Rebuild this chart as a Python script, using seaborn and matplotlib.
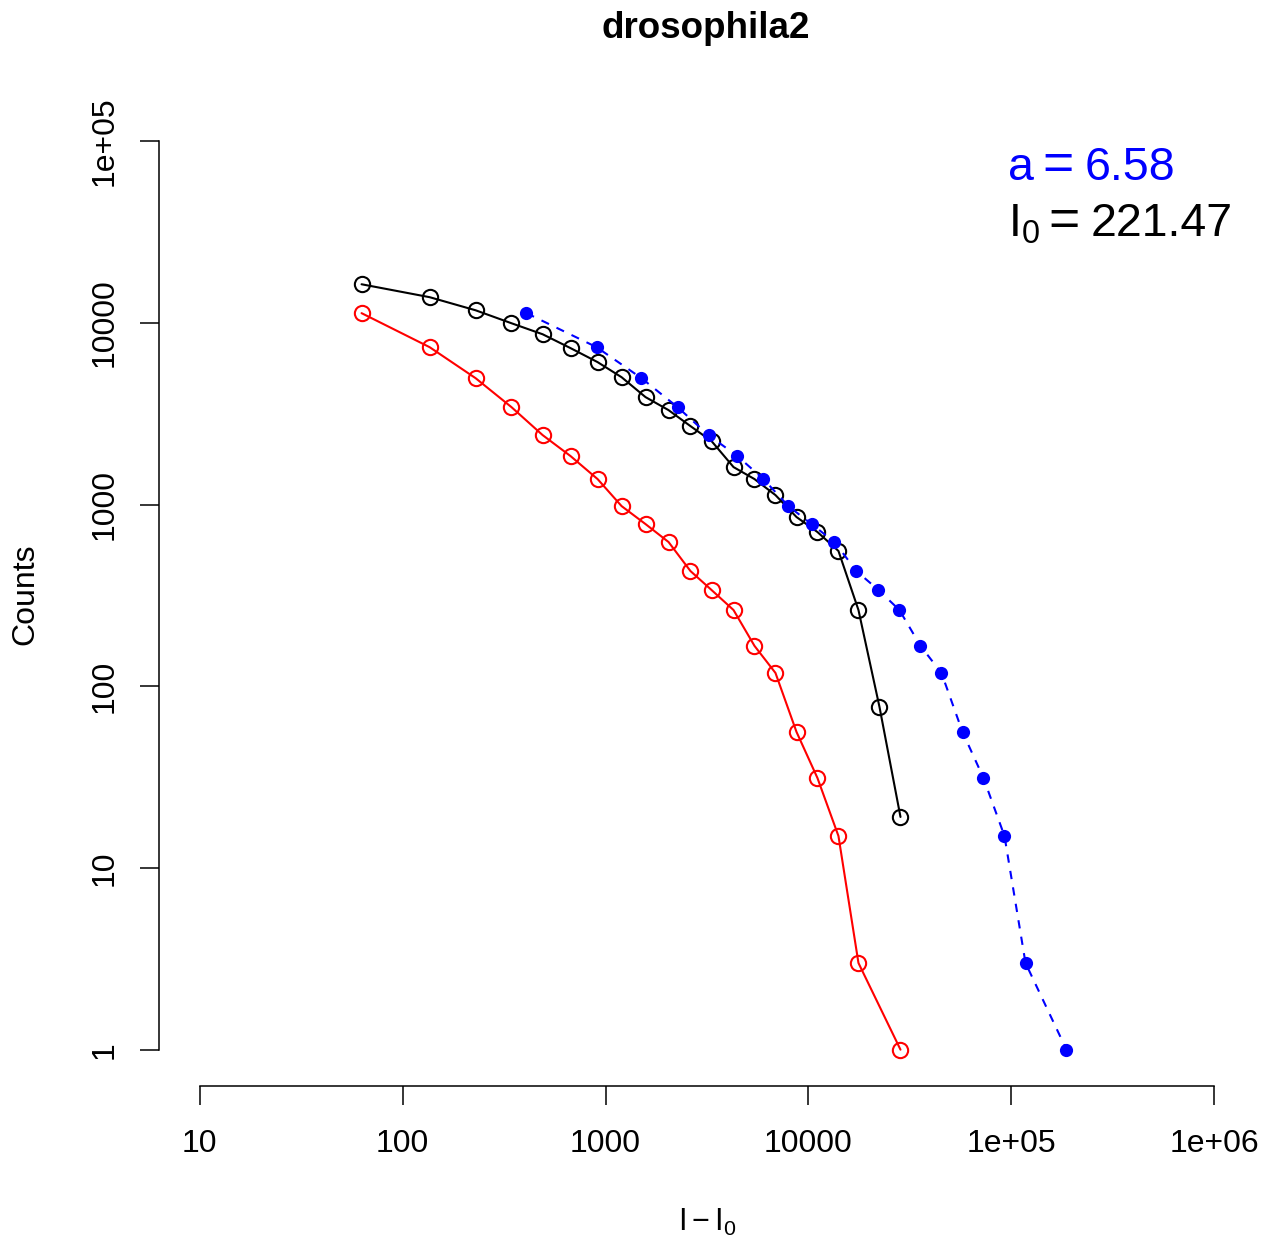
import numpy as np
import pandas as pd
import matplotlib
matplotlib.use("Agg")
import matplotlib.pyplot as plt
import seaborn as sns

# ---- data ----
black_x = [62.8, 136, 229, 344, 490, 673, 914, 1200, 1574, 2044, 2622, 3330, 4273,
           5420, 6876, 8730, 11070, 14050, 17630, 22380, 28400]
black_y = [16340, 13870, 11750, 9970, 8670, 7270, 6090, 5030, 3910, 3315, 2706, 2238,
           1610, 1383, 1129, 855, 707, 556, 263, 77, 19.1]

red_x = [62.8, 136, 229, 344, 490, 673, 914, 1200, 1574, 2044, 2622, 3330, 4273,
         5420, 6876, 8730, 11070, 14050, 17630, 28400]
red_y = [11330, 7360, 4970, 3443, 2415, 1850, 1383, 982, 782, 623, 431, 339, 263,
         167, 118.5, 56.1, 31.3, 15.0, 3.0, 1.0]

blue_x = [408, 904, 1503, 2264, 3217, 4466, 6000, 7960, 10350, 13430, 17230, 22120,
          28060, 35630, 45200, 57400, 72800, 92400, 117300, 186700]
blue_y = [11330, 7360, 4970, 3443, 2415, 1850, 1383, 982, 782, 623, 431, 339, 263,
          167, 118.5, 56.1, 31.3, 15.0, 3.0, 1.0]

x_ticks = [10, 100, 1000, 10000, 1e5, 1e6]
x_ticklabels = ["10", "100", "1000", "10000", "1e+05", "1e+06"]
y_ticks = [1, 10, 100, 1000, 10000, 1e5]
y_ticklabels = ["1", "10", "100", "1000", "10000", "1e+05"]

title = "drosophila2"
a_name, a_value = "a", "6.58"
i0_name, i0_value = r"$\mathrm{I}_0$", "221.47"

# ---- style ----
sns.set_style("white")
plt.rcParams['font.family'] = ['Liberation Sans', 'DejaVu Sans']
plt.rcParams['mathtext.fontset'] = 'custom'
plt.rcParams['mathtext.rm'] = 'Liberation Sans'
plt.rcParams['mathtext.it'] = 'Liberation Sans'
plt.rcParams['text.color'] = 'black'
plt.rcParams['axes.labelcolor'] = 'black'

W, H = 1267, 1239
fig = plt.figure(figsize=(W / 100, H / 100), dpi=100)
L, R, B, T = 159, 1255, 1086, 105
ax = fig.add_axes([L / W, 1 - B / H, (R - L) / W, (B - T) / H])

df_black = pd.DataFrame({"x": black_x, "y": black_y})
df_red = pd.DataFrame({"x": red_x, "y": red_y})
df_blue = pd.DataFrame({"x": blue_x, "y": blue_y})

sns.lineplot(data=df_black, x="x", y="y", ax=ax, color="black", lw=1.5,
             marker="o", ms=11, mfc="none", mec="black", mew=1.5, sort=False)
sns.lineplot(data=df_red, x="x", y="y", ax=ax, color="red", lw=1.5,
             marker="o", ms=11, mfc="none", mec="red", mew=1.5, sort=False)
sns.lineplot(data=df_blue, x="x", y="y", ax=ax, color="blue", lw=1.5,
             linestyle=(0, (4, 4)), marker="o", ms=9.5, mfc="blue", mec="blue",
             mew=0, sort=False)

ax.set_xscale("log")
ax.set_yscale("log")
ax.set_xlim(10 ** 0.8, 10 ** 6.2)
ax.set_ylim(10 ** -0.2, 10 ** 5.2)
ax.set_xticks(x_ticks)
ax.set_xticklabels(x_ticklabels)
ax.set_yticks(y_ticks)
ax.set_yticklabels(y_ticklabels, rotation=90, va="center")
ax.minorticks_off()

for s in ["top", "right"]:
    ax.spines[s].set_visible(False)
ax.spines["left"].set_bounds(1, 1e5)
ax.spines["bottom"].set_bounds(10, 1e6)
for s in ["left", "bottom"]:
    ax.spines[s].set_color("black")
    ax.spines[s].set_linewidth(1.1)

ax.tick_params(axis="both", which="major", direction="out", length=13.7, width=1.1,
               color="black", labelsize=23, labelcolor="black",
               bottom=True, left=True, top=False, right=False)
ax.tick_params(axis="x", pad=17)
ax.tick_params(axis="y", pad=15)

ax.set_xlabel("")
ax.set_ylabel("")
fig.text(706 / W, 1 - 28 / H, title, ha="center", va="center",
         fontsize=26.5, fontweight="bold", color="black")
fig.text(707 / W, 1 - 1222 / H, r"$\mathrm{I} - \mathrm{I}_0$", ha="center",
         va="center", fontsize=22, color="black")
fig.text(25 / W, 1 - 594 / H, "Counts", ha="center", va="center",
         rotation=90, fontsize=23, color="black")

fs = 33.5
fig.text(1008 / W, 1 - 180 / H, a_name, ha="left", va="baseline", fontsize=fs, color="blue")
fig.text(1058 / W, 1 - 180 / H, "=", ha="center", va="baseline", fontsize=fs * 1.15, color="blue")
fig.text(1085 / W, 1 - 180 / H, a_value, ha="left", va="baseline", fontsize=fs, color="blue")

fig.text(1008 / W, 1 - 236 / H, i0_name, ha="left", va="baseline", fontsize=fs, color="black")
fig.text(1064 / W, 1 - 236 / H, "=", ha="center", va="baseline", fontsize=fs * 1.15, color="black")
fig.text(1091 / W, 1 - 236 / H, i0_value, ha="left", va="baseline", fontsize=fs, color="black")

fig.savefig("out.png", dpi=100)
